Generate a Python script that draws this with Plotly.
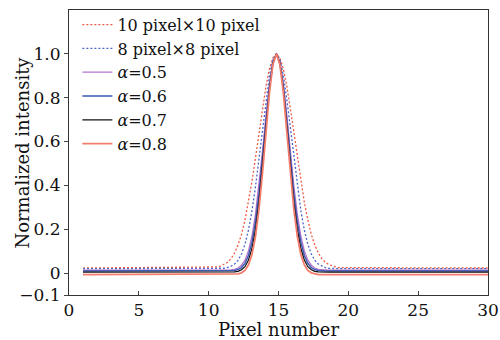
import plotly.graph_objects as go

x = [1, 10.35, 10.6, 10.85, 11.1, 11.35, 11.6, 11.85, 12.1, 12.35, 12.6, 12.85, 13.1, 13.35,
     13.6, 13.85, 14.1, 14.35, 14.6, 14.85, 15.1, 15.35, 15.6, 15.85, 16.1, 16.35, 16.6,
     16.85, 17.1, 17.35, 17.6, 17.85, 18.1, 18.35, 18.6, 18.85, 19.1, 19.35, 30]

px10 = [0.023, .025, .028, .032, .039, .049, .066, .091, .128, .176, .242, .322, .418, .525,
        .638, .750, .851, .931, .982, 1.0, .982, .931, .851, .750, .638, .525, .418, .322,
        .242, .176, .128, .091, .066, .049, .039, .032, .028, .025, 0.023]
px8 = [.020, .020, .020, .021, .022, .025, .031, .041, .058, .087, .132, .196, .284, .393,
       .522, .658, .790, .900, .975, 1.0, .975, .900, .790, .658, .522, .393, .284, .196,
       .132, .087, .058, .041, .031, .025, .022, .021, .020, .020, .020]
a05 = [.013, .013, .013, .013, .013, .013, .015, .017, .023, .036, .059, .101, .168, .267,
       .397, .553, .716, .862, .963, 1.0, .963, .862, .716, .553, .397, .267, .168, .101,
       .059, .036, .023, .017, .015, .013, .013, .013, .013, .013, .013]
a06 = [.009, .009, .009, .009, .009, .009, .009, .012, .016, .025, .044, .080, .140, .233,
       .362, .521, .693, .849, .960, 1.0, .960, .849, .693, .521, .362, .233, .140, .080,
       .044, .025, .016, .012, .009, .009, .009, .009, .009, .009, .009]
a07 = [.004, .004, .004, .004, .004, .004, .004, .0055, .008, .015, .029, .059, .112, .198,
       .325, .486, .666, .835, .956, 1.0, .956, .835, .666, .486, .325, .198, .112, .059,
       .029, .015, .008, .0055, .004, .004, .004, .004, .004, .004, .004]
a08 = [-.007, -.007, -.007, -.007, -.007, -.007, -.007, -.007, -.004, .001, .012, .037, .085,
       .166, .290, .454, .642, .822, .952, 1.0, .952, .822, .642, .454, .290, .166, .085,
       .037, .012, .001, -.004, -.007, -.007, -.007, -.007, -.007, -.007, -.007, -.007]

names = ["10 pixel×10 pixel", "8 pixel×8 pixel", "<i>α</i>=0.5", "<i>α</i>=0.6",
         "<i>α</i>=0.7", "<i>α</i>=0.8"]
series = [px10, px8, a05, a06, a07, a08]
colors = ["#f05a46", "#4a64c8", "#b476cc", "#3c5ab4", "#111111", "#f47c6c"]
dashes = ["2px,2px", "2px,2px", "solid", "solid", "solid", "solid"]
widths = [1.3, 1.3, 1.3, 1.5, 1.2, 1.8]

ytickvals = [-0.1, 0, 0.2, 0.4, 0.6, 0.8, 1.0]
yticktext = ["−0.1", "0", "0.2", "0.4", "0.6", "0.8", "1.0"]
xtickvals = [0, 5, 10, 15, 20, 25, 30]

fig = go.Figure()
for n, s, c, d, w in zip(names, series, colors, dashes, widths):
    fig.add_trace(go.Scatter(x=x, y=s, mode="lines", name=n,
                             line=dict(color=c, dash=d, width=w)))

font = dict(family="DejaVu Serif", size=17, color="#111")
fig.update_layout(
    width=500, height=340,
    margin=dict(l=69, r=12, t=8, b=45),
    paper_bgcolor="white", plot_bgcolor="white",
    font=font,
    showlegend=True,
    legend=dict(x=0.02, y=1.008, xanchor="left", yanchor="top",
                bgcolor="rgba(0,0,0,0)", font=dict(family="DejaVu Serif", size=16, color="#111"),
                tracegroupgap=0, itemwidth=30),
    annotations=[dict(text="Normalized intensity", textangle=-90, xref="paper", yref="paper",
                      x=-0.112, y=0.5, xanchor="center", yanchor="middle", showarrow=False,
                      font=dict(family="DejaVu Serif", size=18, color="#111"))],
)
fig.update_xaxes(range=[0, 30], tickvals=xtickvals, ticks="inside", ticklen=4,
                 showline=True, linecolor="#333", linewidth=1, mirror=True,
                 showgrid=False, zeroline=False, automargin=False,
                 title=dict(text="Pixel number", font=dict(family="DejaVu Serif", size=18), standoff=0),
                 tickfont=font)
fig.update_yaxes(range=[-0.1, 1.2], tickvals=ytickvals, ticktext=yticktext, ticks="outside",
                 ticklen=4, showline=True, linecolor="#333", linewidth=1, mirror=True,
                 showgrid=False, zeroline=False, automargin=False,
                 tickfont=font)
fig.write_html("out.html", config={"displayModeBar": False},
               post_script="document.body.style.margin='0';document.body.style.padding='0';")
